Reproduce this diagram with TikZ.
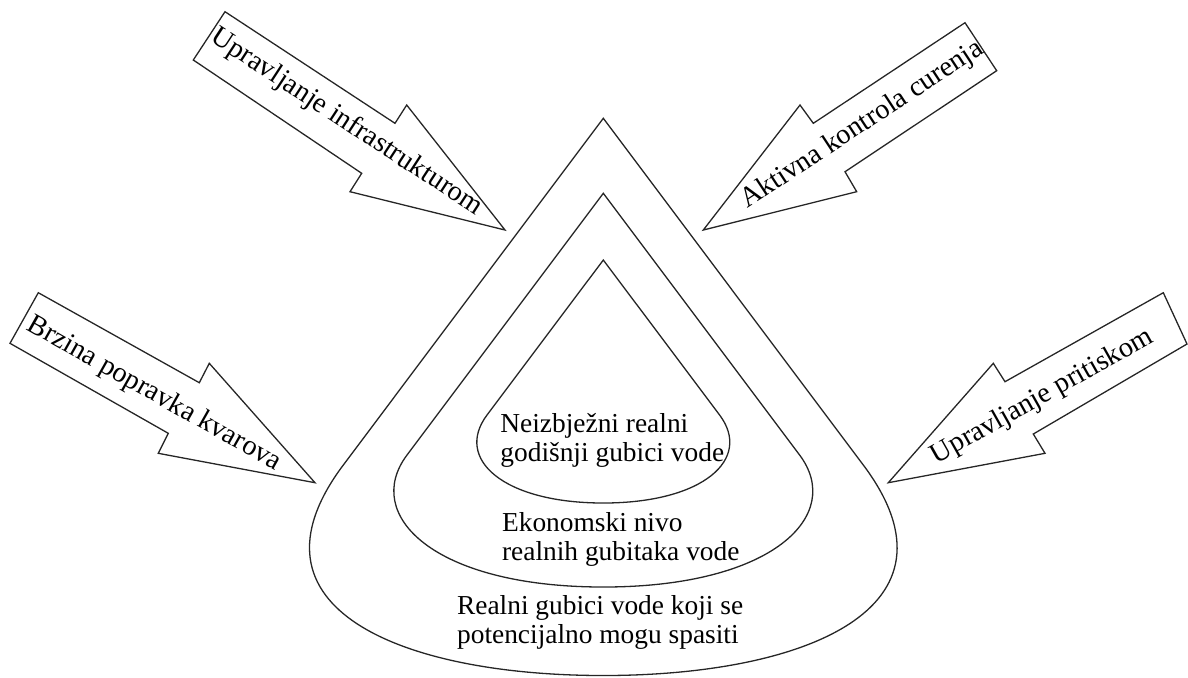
\documentclass[tikz,border=0pt]{standalone}
\usepackage{fontspec}
\setmainfont{Liberation Serif}
\begin{document}
\begin{tikzpicture}[x=0.5pt,y=-0.5pt,
  outline/.style={draw=black!85,line width=0.65pt,line join=miter},
  arrowlabel/.style={font=\fontsize{14.2}{16}\selectfont,inner sep=0pt},
  droplabel/.style={font=\fontsize{13.7}{14.4}\selectfont,align=left,inner sep=0pt,anchor=base west}]
\useasboundingbox (0,0) rectangle (1188,677);

% three nested drops, symmetric about x = 603.3
\draw[outline] (603.3,118.3) -- (343.3,465)
  .. controls (235.3,609) and (403.3,675.5) .. (603.3,675.5)
  .. controls (803.3,675.5) and (971.3,609) .. (863.3,465) -- cycle;
\draw[outline] (603.3,193.3) -- (407,455)
  .. controls (362,515) and (433.3,587) .. (603.3,587)
  .. controls (773.3,587) and (844.6,515) .. (799.6,455) -- cycle;
\draw[outline] (603.3,260) -- (487,415)
  .. controls (454,459) and (503.3,503) .. (603.3,503)
  .. controls (703.3,503) and (752.6,459) .. (719.6,415) -- cycle;

% labels: the base anchor sits on the last line's baseline
\node[droplabel] (inner) at (500,461.7) {Neizbježni realni\\godišnji gubici vode};
\node[droplabel] (middle) at (501.7,560) {Ekonomski nivo\\realnih gubitaka vode};
\node[droplabel] (outer) at (456.7,643.3) {Realni gubici vode koji se\\potencijalno mogu spasiti};

% block arrows pointing at the drop
\draw[outline] (225,11.7) -- (395,123.3) -- (406.7,105) -- (505,230)
  -- (350,191.7) -- (361.7,173.3) -- (193.3,60) -- cycle;
\node[arrowlabel,rotate=-33.2] (infra) at (346.5,122.5) {Upravljanje infrastrukturom};

\draw[outline] (703.3,230) -- (800,105) -- (813.3,123.3) -- (965,22.7)
  -- (996.7,70.7) -- (845,171.7) -- (856.7,191.7) -- cycle;
\node[arrowlabel,rotate=33.3] (leak) at (862.5,125) {Aktivna kontrola curenja};

\draw[outline] (38.3,292.7) -- (199.3,382.7) -- (209.3,363.3) -- (315,482.7)
  -- (158.3,453.3) -- (168.3,433.3) -- (10,343.3) -- cycle;
\node[arrowlabel,rotate=-29.5] (repair) at (154.2,394.2) {Brzina popravka kvarova};

\draw[outline] (888.3,482.7) -- (993.3,363.3) -- (1005,381.7) -- (1163.3,292.7)
  -- (1187,344) -- (1033.3,434) -- (1045,453.3) -- cycle;
\node[arrowlabel,rotate=29.4] (pressure) at (1042.5,396.7) {Upravljanje pritiskom};
\end{tikzpicture}
\end{document}
